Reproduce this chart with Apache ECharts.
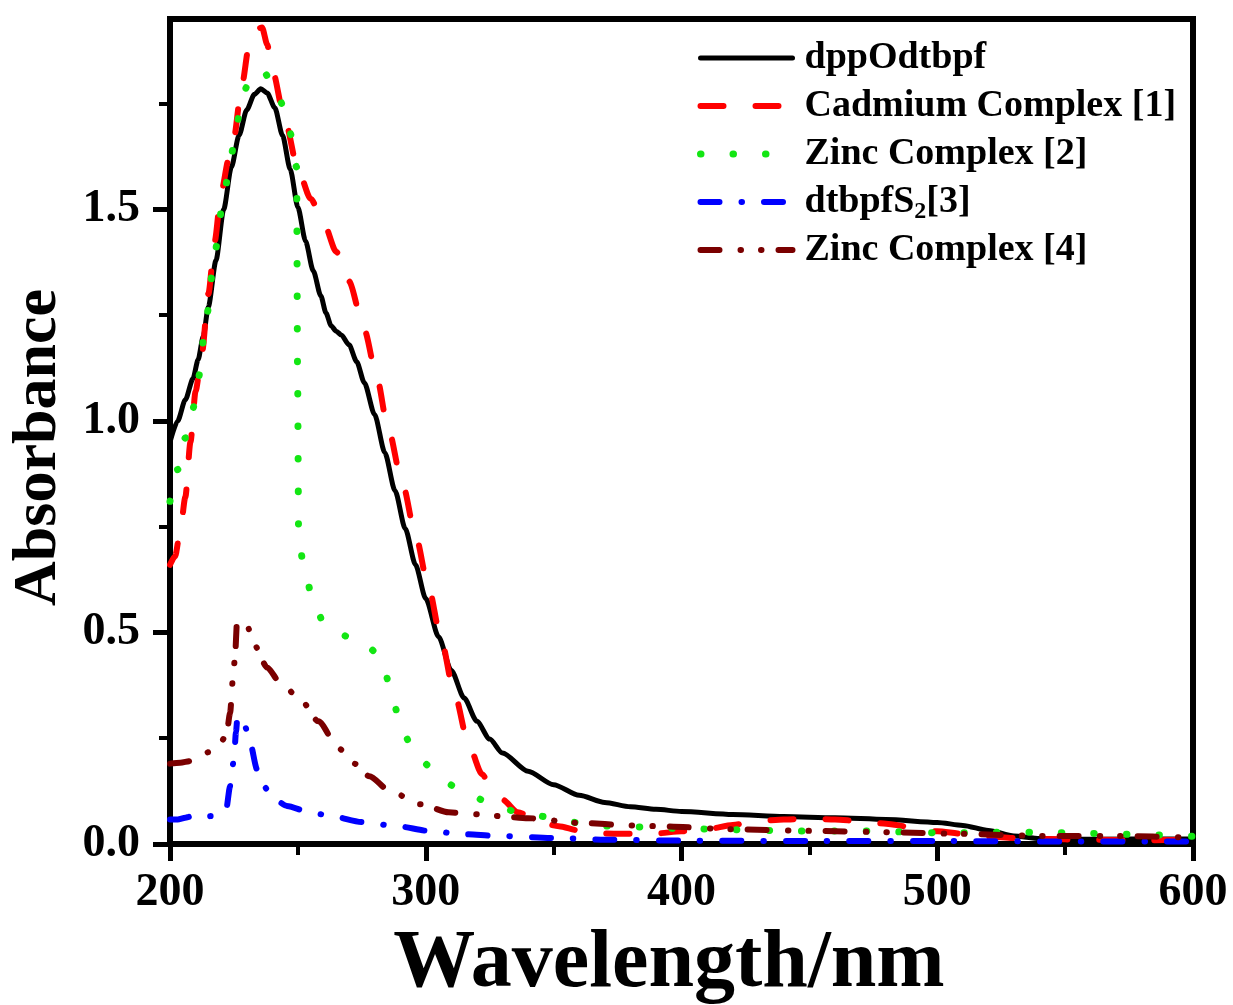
<!DOCTYPE html>
<html>
<head>
<meta charset="utf-8">
<script src="https://cdn.jsdelivr.net/npm/echarts@6/dist/echarts.min.js"></script>
<style>
html,body{margin:0;padding:0;background:#fff;}
#chart{width:1233px;height:1005px;}
</style>
</head>
<body>
<div id="chart"></div>
<script>
// ---- data ----
var seriesNames = ['dppOdtbpf', 'Cadmium Complex [1]', 'Zinc Complex [2]', 'dtbpfS2[3]', 'Zinc Complex [4]'];

var dppWl  = [200,203,206,209,211,213,215,218,221,224,227,230,233,235.5,238,241,244,247,250,253,256,259,261,263,265,267,270,273,276,280,284,288,292,296,300,305,310,315,320,325,330,340,350,360,370,380,390,400,420,440,460,480,500,510,520,530,540,550,575,600];
var dppAbs = [0.95,1.00,1.05,1.10,1.145,1.20,1.27,1.38,1.50,1.60,1.675,1.735,1.772,1.785,1.775,1.74,1.675,1.595,1.505,1.425,1.355,1.295,1.255,1.225,1.212,1.203,1.18,1.14,1.09,1.015,0.925,0.835,0.745,0.66,0.58,0.49,0.41,0.345,0.29,0.248,0.215,0.172,0.14,0.115,0.098,0.088,0.082,0.077,0.07,0.065,0.062,0.058,0.051,0.044,0.032,0.019,0.013,0.011,0.012,0.012];

var cdWl  = [200,202,204,206,208,210,212.5,215,217.5,220,223,225,228,231,233.5,236,238,240,245,250,255,260,265,270,276,281,285,291,296,301,306,311,317,322,326,330,336,345,352,360,370,380,390,400,410,420,430,440,450,460,470,480,490,500,510,520,530,540,560,580,600];
var cdAbs = [0.66,0.68,0.74,0.82,0.95,1.07,1.16,1.30,1.425,1.54,1.62,1.67,1.79,1.89,1.925,1.93,1.89,1.83,1.71,1.595,1.525,1.47,1.40,1.33,1.215,1.10,0.99,0.85,0.73,0.61,0.485,0.36,0.23,0.165,0.13,0.105,0.075,0.05,0.042,0.032,0.025,0.024,0.025,0.03,0.035,0.045,0.054,0.058,0.06,0.058,0.054,0.048,0.04,0.03,0.024,0.018,0.014,0.012,0.01,0.009,0.01];

var zn2Wl  = [200,203,206,209,211,214.5,217.5,221.5,224,226,228.5,232,236,240,243,247,249.5,249.9,250.3,252.5,256,260,264,270,276,280,284,287,291,295,299,305,311,318,324,330,336,348,360,373,385,398,420,444,470,504,520,540,560,587,600];
var zn2Abs = [0.81,0.885,0.96,1.03,1.10,1.255,1.40,1.55,1.63,1.70,1.775,1.815,1.83,1.80,1.757,1.68,1.60,1.10,0.72,0.65,0.573,0.525,0.50,0.49,0.48,0.455,0.408,0.34,0.265,0.225,0.193,0.16,0.137,0.115,0.099,0.085,0.075,0.064,0.05,0.042,0.04,0.037,0.034,0.031,0.031,0.026,0.028,0.028,0.025,0.021,0.018];

var s2Wl  = [200,203,206,208,210,213,216,219,222,223.5,225,225.8,226.4,228,229.5,231.3,234,237.9,241,245.7,254.7,263,275,289,301,315,328,352,370,400,450,500,550,600];
var s2Abs = [0.058,0.058,0.062,0.065,0.06,0.063,0.066,0.07,0.083,0.137,0.2,0.265,0.302,0.295,0.275,0.24,0.177,0.13,0.105,0.09,0.075,0.066,0.052,0.042,0.031,0.023,0.019,0.014,0.01,0.008,0.007,0.007,0.006,0.006];

var zn4Wl  = [200,204,208,212,215,219,222,223.5,224.6,225.4,226.2,228,230,233,238,243,251,258,266,272,278,286,298,309,317,329,340,360,380,392,420,451,481,509,541,571,600];
var zn4Abs = [0.19,0.192,0.196,0.205,0.217,0.235,0.255,0.31,0.39,0.44,0.525,0.527,0.518,0.47,0.417,0.382,0.342,0.29,0.226,0.19,0.16,0.125,0.094,0.075,0.071,0.066,0.061,0.05,0.044,0.042,0.035,0.031,0.028,0.024,0.019,0.019,0.015];

var yMajorTicks = [0, 0.5, 1.0, 1.5];
var yMinorTicks = [0.25, 0.75, 1.25, 1.75];

// ---- chart ----
function pairs(xs, ys) { return xs.map(function (x, i) { return [x, ys[i]]; }); }

var FONT = "'Liberation Serif','Times New Roman',serif";
var chart = echarts.init(document.getElementById('chart'), null, {renderer: 'canvas'});

function mk(name, xs, ys, color, width, dash) {
  return {
    type: 'line', name: name, data: pairs(xs, ys),
    xAxisIndex: 0, yAxisIndex: 0,
    symbol: 'none', showSymbol: false, smooth: 0.25, smoothMonotone: 'x',
    itemStyle: { color: color },
    lineStyle: { color: color, width: width, type: dash, cap: 'round', join: 'round' }
  };
}

var option = {
  backgroundColor: '#ffffff',
  animation: false,
  grid: { left: 170, right: 40, top: 19, bottom: 161, outerBoundsMode: 'none',
          show: true, borderColor: '#000', borderWidth: 6, backgroundColor: 'transparent' },
  legend: {
    data: seriesNames,
    orient: 'vertical',
    left: 697, top: 34,
    padding: 0,
    itemWidth: 92, itemHeight: 14, itemGap: 0,
    itemStyle: { opacity: 0 },
    lineStyle: { width: 'inherit', type: 'inherit', cap: 'round' },
    textStyle: {
      fontFamily: FONT, fontWeight: 'bold', fontSize: 38, lineHeight: 48, color: '#000',
      padding: [0, 0, 0, 7],
      rich: {
        n: { fontFamily: FONT, fontWeight: 'bold', fontSize: 38, color: '#000' },
        s: { fontFamily: FONT, fontWeight: 'bold', fontSize: 24, color: '#000', padding: [20, 0, 0, 0] }
      }
    },
    formatter: function (name) {
      if (name === 'dtbpfS2[3]') return '{n|dtbpfS}{s|2}{n|[3]}';
      return name;
    }
  },
  xAxis: {
    type: 'value', min: 200, max: 600, interval: 100,
    axisLine: { show: true, onZero: false, lineStyle: { color: '#000', width: 6 } },
    axisTick: { show: true, inside: false, length: 17, lineStyle: { color: '#000', width: 5 } },
    minorTick: { show: true, splitNumber: 2, length: 11, lineStyle: { color: '#000', width: 4 } },
    splitLine: { show: false },
    minorSplitLine: { show: false },
    axisLabel: { show: true, margin: 26, color: '#000', fontFamily: FONT, fontWeight: 'bold', fontSize: 46 },
    name: 'Wavelength/nm', nameLocation: 'middle', nameGap: 80,
    nameTextStyle: { color: '#000', fontFamily: FONT, fontWeight: 'bold', fontSize: 82, padding: [0, 25, 0, 0] }
  },
  yAxis: [
    {
      type: 'value', position: 'left', min: 0, max: 1.95, interval: 0.5,
      axisLine: { show: true, onZero: false, lineStyle: { color: '#000', width: 6 } },
      axisTick: { show: true, inside: false, length: 17, lineStyle: { color: '#000', width: 5 }, customValues: yMajorTicks },
      splitLine: { show: false },
      axisLabel: { show: true, margin: 30, color: '#000', fontFamily: FONT, fontWeight: 'bold', fontSize: 46,
        showMaxLabel: false,
        formatter: function (v) { return (Math.abs(v * 2 - Math.round(v * 2)) < 1e-6) ? Number(v).toFixed(1) : ''; } },
      name: 'Absorbance', nameLocation: 'middle', nameGap: 100, nameRotate: 90,
      nameTextStyle: { color: '#000', fontFamily: FONT, fontWeight: 'bold', fontSize: 62, padding: [0, 32, 0, 0] }
    },
    {
      type: 'value', position: 'left', min: 0, max: 1.95,
      axisLine: { show: false },
      axisTick: { show: true, inside: false, length: 11, lineStyle: { color: '#000', width: 4 }, customValues: yMinorTicks },
      axisLabel: { show: false }, splitLine: { show: false }
    }
  ],
  series: [
    mk(seriesNames[0], dppWl, dppAbs, '#000000', 5, 'solid'),
    mk(seriesNames[1], cdWl, cdAbs, '#ff0000', 6, [23, 32]),
    mk(seriesNames[2], zn2Wl, zn2Abs, '#13e613', 7, [0.5, 32]),
    mk(seriesNames[3], s2Wl, s2Abs, '#0000ff', 6, [19, 22, 0.5, 22]),
    mk(seriesNames[4], zn4Wl, zn4Abs, '#7a0000', 6, [19, 21, 0.5, 20, 0.5, 17])
  ]
};
chart.setOption(option);
</script>
</body>
</html>
